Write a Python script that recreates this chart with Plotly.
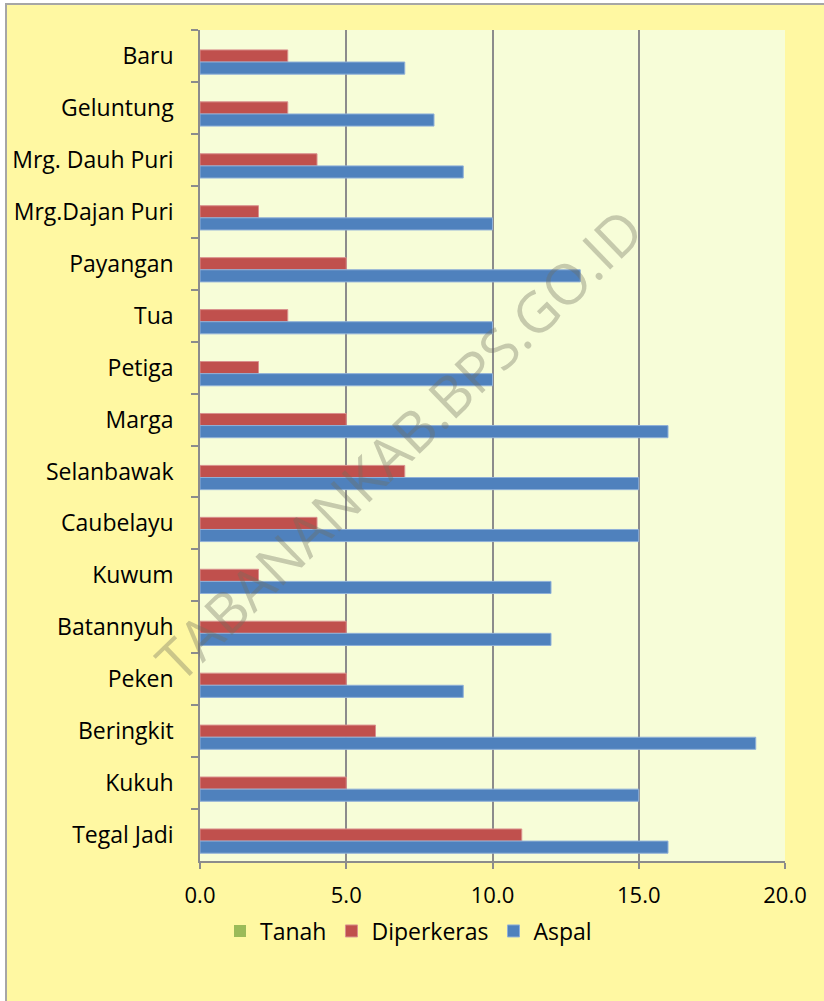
import plotly.graph_objects as go

categories = ["Baru", "Geluntung", "Mrg. Dauh Puri", "Mrg.Dajan Puri", "Payangan", "Tua",
              "Petiga", "Marga", "Selanbawak", "Caubelayu", "Kuwum", "Batannyuh",
              "Peken", "Beringkit", "Kukuh", "Tegal Jadi"]
tanah = [0] * 16
diperkeras = [3, 3, 4, 2, 5, 3, 2, 5, 7, 4, 2, 5, 5, 6, 5, 11]
aspal = [7, 8, 9, 10, 13, 10, 10, 16, 15, 15, 12, 12, 9, 19, 15, 16]
x_ticks = [0, 5, 10, 15, 20]

FONT = "Open Sans, Lato, sans-serif"
GRID = "#8c8c8c"

fig = go.Figure()
fig.add_trace(go.Bar(y=categories, x=tanah, name="Tanah", orientation="h",
                     marker=dict(color="#9BBB59", line=dict(width=0))))
fig.add_trace(go.Bar(y=categories, x=diperkeras, name="Diperkeras", orientation="h",
                     marker=dict(color="#C0504D", line=dict(color="#D9908E", width=1))))
fig.add_trace(go.Bar(y=categories, x=aspal, name="Aspal", orientation="h",
                     marker=dict(color="#4F81BD", line=dict(color="#8FB0D8", width=1))))

L, R, T, B = 200, 39, 30, 140
W, H = 824, 1001
pw, ph = W - L - R, H - T - B

def px_x(p):
    return (p - L) / pw

def px_y(p):
    return 1 - (p - T) / ph

fig.update_layout(
    width=W, height=H,
    margin=dict(l=L, r=R, t=T, b=B, pad=0),
    paper_bgcolor="white",
    plot_bgcolor="rgba(0,0,0,0)",
    barmode="group", bargap=0.30, bargroupgap=0,
    font=dict(family=FONT, size=22, color="black"),
    showlegend=True,
    legend=dict(orientation="h", x=px_x(220), y=px_y(931), xanchor="left", yanchor="middle",
                font=dict(family=FONT, size=23, color="black"),
                bgcolor="rgba(0,0,0,0)", itemwidth=30, traceorder="normal"),
    xaxis=dict(range=[0, 20], tickvals=x_ticks, tickformat=".1f",
               showgrid=True, gridcolor=GRID, gridwidth=1.5,
               showline=True, linecolor=GRID, linewidth=1.5,
               ticks="outside", ticklen=6, tickcolor=GRID, tickwidth=1.5,
               ticklabelstandoff=8, zeroline=False, fixedrange=True,
               tickfont=dict(family=FONT, size=22, color="black")),
    yaxis=dict(type="category", categoryorder="array", categoryarray=categories,
               autorange="reversed",
               showgrid=False, showline=True, linecolor=GRID, linewidth=1.5,
               ticks="outside", tickson="boundaries", ticklen=7, tickcolor=GRID, tickwidth=1.5,
               ticklabelstandoff=20,
               tickfont=dict(family=FONT, size=23, color="black")),
    shapes=[
        dict(type="rect", xref="paper", yref="paper", layer="below",
             x0=px_x(6), x1=px_x(840), y0=px_y(1020), y1=px_y(4),
             fillcolor="#FFF8A2", line=dict(color="#A6A6A6", width=2)),
        dict(type="rect", xref="paper", yref="paper", layer="below",
             x0=0, x1=1, y0=0, y1=1,
             fillcolor="#F7FDD8", line=dict(width=0)),
    ],
    annotations=[
        dict(text="TABANANKAB.BPS.GO.ID", xref="paper", yref="paper",
             x=px_x(398), y=px_y(444), xanchor="center", yanchor="middle",
             showarrow=False, textangle=-44,
             font=dict(family=FONT, size=56, color="rgba(110,112,95,0.36)")),
    ],
)

fig.write_html("out.html", config={"displayModeBar": False},
               post_script="document.body.style.margin='0px';")
